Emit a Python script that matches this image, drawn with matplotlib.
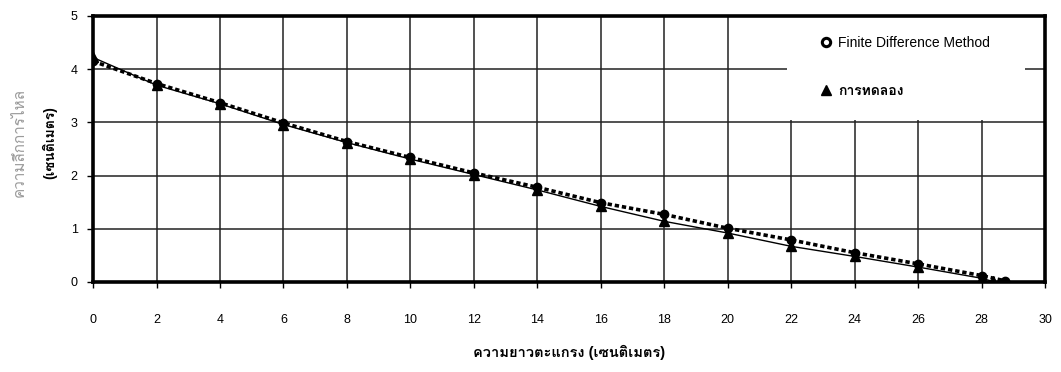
import matplotlib
matplotlib.use("Agg")
import matplotlib.pyplot as plt
from matplotlib import font_manager
from matplotlib.ft2font import FT2Font
from matplotlib.lines import Line2D
from matplotlib.patches import Rectangle

# data
fdm_x = [0, 2, 4, 6, 8, 10, 12, 14, 16, 18, 20, 22, 24, 26, 28, 28.75]
fdm_y = [4.15, 3.73, 3.37, 2.99, 2.64, 2.34, 2.05, 1.78, 1.49, 1.27, 1.01, 0.79, 0.55, 0.34, 0.12, 0.02]
exp_x = [0, 2, 4, 6, 8, 10, 12, 14, 16, 18, 20, 22, 24, 26, 28, 28.35]
exp_y = [4.22, 3.70, 3.35, 2.96, 2.62, 2.31, 2.02, 1.73, 1.42, 1.14, 0.92, 0.67, 0.48, 0.28, 0.07, 0.01]
x_ticks = list(range(0, 31, 2))
y_ticks = [0, 1, 2, 3, 4, 5]

label_fdm = "Finite Difference Method"
label_exp = "การทดลอง"
xlabel = "ความยาวตะแกรง (เซนติเมตร)"
ylabel_1 = "ความลึกการไหล"
ylabel_2 = "(เซนติเมตร)"


def find_thai_font():
    # Loma is usually there; otherwise take any font with Thai glyphs
    names = {f.name for f in font_manager.fontManager.ttflist}
    if "Loma" in names:
        return "Loma"
    for f in font_manager.fontManager.ttflist:
        try:
            ft = FT2Font(f.fname)
            if ft.get_char_index(ord("ก")):
                return f.name
        except Exception:
            pass
    return None


thai = find_thai_font()
plt.rcParams["font.family"] = ["Liberation Sans"] + ([thai] if thai else []) + ["DejaVu Sans"]

fig = plt.figure(figsize=(10.61, 3.72), dpi=100)
ax = fig.add_axes([0.0877, 0.242, 0.8973, 0.715])

ax.plot(exp_x, exp_y, color="black", linewidth=1.0, marker="^", markersize=7,
        markerfacecolor="black", markeredgecolor="black", zorder=3)
ax.plot(fdm_x, fdm_y, color="black", linewidth=2.6, linestyle=(0, (1.2, 0.8)),
        marker="o", markersize=6, markerfacecolor="black", markeredgecolor="black", zorder=4)

ax.set_xlim(0, 30)
ax.set_ylim(0, 5)
ax.set_xticks(x_ticks)
ax.set_yticks(y_ticks)
ax.grid(True, color="#222222", linewidth=1.1)
ax.set_axisbelow(True)
for s in ax.spines.values():
    s.set_linewidth(2.6)
    s.set_color("black")
ax.tick_params(axis="x", direction="out", length=4, width=1, pad=19, labelsize=9)
ax.tick_params(axis="y", direction="out", length=4, width=1, pad=7, labelsize=9)

ax.set_xlabel(xlabel, fontsize=10.5, fontweight="bold", labelpad=14)

fig.text(0.019, 0.616, ylabel_1, rotation=90, ha="center", va="center",
         fontsize=11, color="#9a9a9a")
fig.text(0.047, 0.616, ylabel_2, rotation=90, ha="center", va="center",
         fontsize=10, fontweight="bold")

# white legend area that hides the grid behind it
ax.add_patch(Rectangle((0.729, 0.609), 0.25, 0.391, transform=ax.transAxes,
                       facecolor="white", edgecolor="none", zorder=2))

handles = [
    Line2D([], [], linestyle="none", marker="o", markersize=6, markerfacecolor="white",
           markeredgecolor="black", markeredgewidth=2.2),
    Line2D([], [], linestyle="none", marker="^", markersize=7, markerfacecolor="black",
           markeredgecolor="black"),
]
leg = ax.legend(handles, [label_fdm, label_exp], loc="upper left",
                bbox_to_anchor=(0.768, 0.922), bbox_transform=fig.transFigure,
                frameon=False, fontsize=10, labelspacing=2.45, borderpad=0,
                handletextpad=0.6, handlelength=0.6)
leg.get_texts()[1].set_fontweight("bold")

fig.savefig("out.png", dpi=100)
